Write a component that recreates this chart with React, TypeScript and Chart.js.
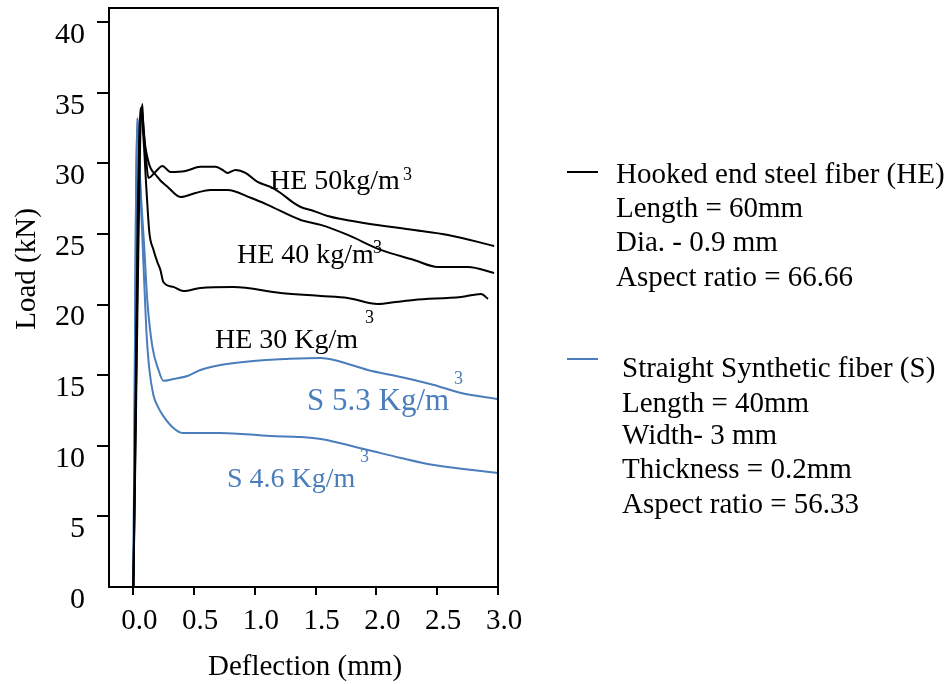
import React, { useEffect, useRef } from "react";
import { Chart, registerables } from "chart.js";

Chart.register(...registerables);

// Axis ticks
const deflectionTicks = [0, 0.5, 1.0, 1.5, 2.0, 2.5, 3.0];
const loadTicks = [0, 5, 10, 15, 20, 25, 30, 35, 40];

// Hooked end steel fibre, 50 kg/m3
const he50Deflection = [0, 0.066, 0.099, 0.124, 0.181, 0.239, 0.305, 0.429, 0.552, 0.676, 0.734, 0.775, 0.841, 0.923, 1.022, 1.129, 1.212, 1.319, 1.377, 1.484, 1.599, 1.896, 2.308, 2.589, 2.968];
const he50Load = [0, 34.0, 30.95, 28.97, 29.39, 29.82, 29.39, 29.46, 29.75, 29.75, 29.53, 29.32, 29.53, 29.32, 28.68, 28.33, 27.9, 27.2, 26.91, 26.63, 26.27, 25.78, 25.28, 24.93, 24.15];

// Hooked end steel fibre, 40 kg/m3
const he40Deflection = [0, 0.074, 0.082, 0.115, 0.198, 0.289, 0.388, 0.511, 0.635, 0.775, 0.965, 1.105, 1.377, 1.542, 1.764, 2.036, 2.308, 2.506, 2.753, 2.968];
const he40Load = [0, 34.2, 32.6, 30.45, 29.04, 28.28, 27.62, 27.9, 28.12, 28.12, 27.56, 27.06, 25.99, 25.64, 24.93, 23.87, 23.16, 22.66, 22.66, 22.24];

// Hooked end steel fibre, 30 kg/m3
const he30Deflection = [0, 0.058, 0.082, 0.107, 0.132, 0.165, 0.198, 0.223, 0.247, 0.33, 0.412, 0.552, 0.824, 1.212, 1.542, 1.764, 2.012, 2.16, 2.308, 2.696, 2.861, 2.918];
const he30Load = [0, 33.9, 32.0, 28.3, 25.1, 23.9, 23.0, 22.45, 21.6, 21.25, 20.96, 21.18, 21.25, 20.82, 20.61, 20.47, 20.04, 20.18, 20.33, 20.54, 20.75, 20.4];

// Straight synthetic fibre, 5.3 kg/m3
const s53Deflection = [0, 0.033, 0.058, 0.091, 0.115, 0.157, 0.206, 0.247, 0.33, 0.445, 0.552, 0.717, 0.989, 1.27, 1.542, 1.649, 1.929, 2.201, 2.473, 2.696, 3.0];
const s53Load = [0, 33.2, 28.5, 23.9, 20.3, 17.0, 15.4, 14.6, 14.73, 14.94, 15.37, 15.72, 16.01, 16.15, 16.22, 16.08, 15.37, 14.87, 14.31, 13.74, 13.31];

// Straight synthetic fibre, 4.6 kg/m3
const s46Deflection = [0, 0.033, 0.058, 0.082, 0.107, 0.132, 0.165, 0.206, 0.247, 0.33, 0.404, 0.717, 1.129, 1.377, 1.542, 1.929, 2.201, 2.473, 3.0];
const s46Load = [0, 33.2, 28.1, 23.2, 18.2, 15.4, 13.6, 12.7, 12.1, 11.26, 10.91, 10.91, 10.69, 10.62, 10.48, 9.7, 9.14, 8.64, 8.07];

const heLegend = ["Hooked end steel fiber (HE)", "Length = 60mm", "Dia. - 0.9 mm", "Aspect ratio = 66.66"];
const sLegend = ["Straight Synthetic fiber (S)", "Length = 40mm", "Width- 3 mm", "Thickness = 0.2mm", "Aspect ratio = 56.33"];

const BLACK = "#000000";
const BLUE = "#4a7dbb";
const SERIF = "'Liberation Serif', 'Times New Roman', serif";

const zip = (xs: number[], ys: number[]) => xs.map((x, i) => ({ x, y: ys[i] }));

const series = (label: string, xs: number[], ys: number[], color: string) => ({
  label,
  data: zip(xs, ys),
  borderColor: color,
  borderWidth: 2,
  pointRadius: 0,
  fill: false,
  cubicInterpolationMode: "monotone" as const,
});

// Frame, axis titles, curve labels and the fibre description block
const decorations = {
  id: "decorations",
  afterDraw(chart: any) {
    const { ctx, chartArea } = chart;
    const { left, right, top, bottom } = chartArea;
    ctx.save();

    // top and right edges of the frame
    ctx.strokeStyle = BLACK;
    ctx.lineWidth = 2;
    ctx.beginPath();
    ctx.moveTo(left, top);
    ctx.lineTo(right, top);
    ctx.lineTo(right, bottom);
    ctx.stroke();

    // axis titles
    ctx.fillStyle = BLACK;
    ctx.font = `29px ${SERIF}`;
    ctx.textAlign = "center";
    ctx.textBaseline = "alphabetic";
    ctx.fillText("Deflection (mm)", 305, 675);
    ctx.save();
    ctx.translate(35, 269);
    ctx.rotate(-Math.PI / 2);
    ctx.fillText("Load (kN)", 0, 0);
    ctx.restore();

    // curve labels with cubic-metre superscripts
    const label = (text: string, x: number, y: number, size: number, color: string, supX: number, supY: number) => {
      ctx.fillStyle = color;
      ctx.textAlign = "left";
      ctx.font = `${size}px ${SERIF}`;
      ctx.fillText(text, x, y);
      ctx.font = `18px ${SERIF}`;
      ctx.fillText("3", supX, supY);
    };
    label("HE 50kg/m", 270, 189, 28, BLACK, 403, 180);
    label("HE 40 kg/m", 237, 263, 28, BLACK, 373, 253);
    label("HE 30 Kg/m", 215, 348, 28, BLACK, 365, 323);
    label("S 5.3 Kg/m", 307, 410, 31, BLUE, 454, 384);
    label("S 4.6 Kg/m", 227, 487, 28, BLUE, 360, 462);

    // fibre description block
    ctx.lineWidth = 2;
    ctx.strokeStyle = BLACK;
    ctx.beginPath();
    ctx.moveTo(567, 172);
    ctx.lineTo(598, 172);
    ctx.stroke();
    ctx.strokeStyle = BLUE;
    ctx.beginPath();
    ctx.moveTo(567, 359);
    ctx.lineTo(598, 359);
    ctx.stroke();

    ctx.fillStyle = BLACK;
    ctx.font = `29px ${SERIF}`;
    ctx.textAlign = "left";
    const heBase = [183, 217, 251, 286];
    heLegend.forEach((t, i) => ctx.fillText(t, 616, heBase[i]));
    const sBase = [377, 412, 444, 478, 513];
    sLegend.forEach((t, i) => ctx.fillText(t, 622, sBase[i]));

    ctx.restore();
  },
};

export default function App() {
  const canvasRef = useRef<HTMLCanvasElement>(null);

  useEffect(() => {
    const canvas = canvasRef.current;
    if (!canvas) return;
    const chart = new Chart(canvas, {
      type: "line",
      data: {
        datasets: [
          series("HE 50", he50Deflection, he50Load, BLACK),
          series("HE 40", he40Deflection, he40Load, BLACK),
          series("HE 30", he30Deflection, he30Load, BLACK),
          series("S 5.3", s53Deflection, s53Load, BLUE),
          series("S 4.6", s46Deflection, s46Load, BLUE),
        ],
      },
      options: {
        responsive: false,
        animation: false,
        devicePixelRatio: 1,
        layout: { padding: { left: 0, top: 8, right: 453, bottom: 0 } },
        plugins: {
          legend: { display: false },
          tooltip: { enabled: false },
          title: { display: false },
        },
        scales: {
          x: {
            type: "linear",
            min: -0.2,
            max: 3.0,
            afterBuildTicks: (scale: any) => {
              scale.ticks = deflectionTicks.map((value) => ({ value }));
            },
            afterFit: (scale: any) => {
              scale.height = 97;
              scale.paddingLeft = 0;
              scale.paddingRight = 0;
            },
            border: { display: true, color: BLACK, width: 2 },
            grid: {
              drawOnChartArea: false,
              drawTicks: true,
              tickLength: 8,
              lineWidth: 2,
              tickColor: BLACK,
            },
            ticks: {
              color: BLACK,
              font: { family: SERIF, size: 29 },
              padding: 9,
              labelOffset: 6,
              maxRotation: 0,
              autoSkip: false,
              callback: (v: any) => Number(v).toFixed(1),
            },
          },
          y: {
            type: "linear",
            min: 0,
            max: 41,
            afterBuildTicks: (scale: any) => {
              scale.ticks = loadTicks.map((value) => ({ value }));
            },
            afterFit: (scale: any) => {
              scale.width = 109;
              scale.paddingTop = 0;
              scale.paddingBottom = 0;
            },
            border: { display: true, color: BLACK, width: 2 },
            grid: {
              drawOnChartArea: false,
              drawTicks: true,
              tickLength: 12,
              lineWidth: 2,
              tickColor: (c: any) => (c.tick && c.tick.value === 0 ? "rgba(0,0,0,0)" : BLACK),
            },
            ticks: {
              color: BLACK,
              font: { family: SERIF, size: 30 },
              padding: 12,
              labelOffset: 13,
              autoSkip: false,
              callback: (v: any) => String(v),
            },
          },
        },
      },
      plugins: [decorations],
    });
    return () => chart.destroy();
  }, []);

  return (
    <div style={{ position: "fixed", left: 0, top: 0, width: 951, height: 684, background: "#ffffff" }}>
      <canvas ref={canvasRef} width={951} height={684} style={{ width: 951, height: 684, display: "block" }} />
    </div>
  );
}
